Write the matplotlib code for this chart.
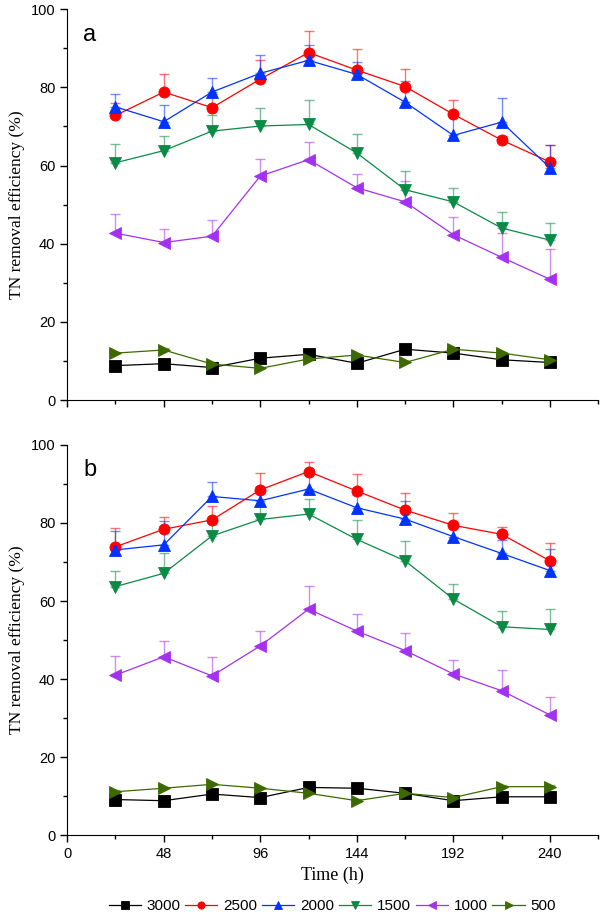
import matplotlib
matplotlib.use('Agg')
import numpy as np
import matplotlib.pyplot as plt
from matplotlib.ticker import MultipleLocator

# sampling times (h)
time_h = [24, 48, 72, 96, 120, 144, 168, 192, 216, 240]
labels = ['3000', '2500', '2000', '1500', '1000', '500']

# panel a: TN removal efficiency (%) and upper error
a_3000 = [8.8, 9.3, 8.3, 10.7, 11.7, 9.4, 13.0, 12.0, 10.3, 9.6]
a_2500 = [72.8, 78.8, 74.8, 82.1, 88.9, 84.4, 80.2, 73.1, 66.5, 60.9]
a_2000 = [75.0, 71.2, 78.8, 83.6, 86.9, 83.3, 76.2, 67.7, 71.1, 59.4]
a_1500 = [60.7, 63.8, 68.8, 70.1, 70.5, 63.2, 53.8, 50.7, 44.0, 40.9]
a_1000 = [42.7, 40.3, 41.9, 57.3, 61.5, 54.3, 50.7, 42.3, 36.5, 30.9]
a_500 = [12.0, 12.8, 9.2, 8.1, 10.5, 11.5, 9.6, 13.0, 12.0, 10.3]

a_err_3000 = [0.4, 0.4, 0.4, 0.4, 0.4, 0.4, 0.4, 0.4, 0.4, 0.4]
a_err_2500 = [3.3, 4.5, 3.6, 4.8, 5.4, 5.5, 4.6, 3.6, 1.0, 4.3]
a_err_2000 = [3.2, 4.2, 3.7, 4.7, 4.0, 3.3, 5.3, 5.0, 6.1, 5.8]
a_err_1500 = [4.9, 3.7, 4.1, 4.5, 6.2, 4.9, 4.7, 3.6, 4.0, 4.4]
a_err_1000 = [4.9, 3.5, 4.1, 4.4, 4.6, 3.6, 5.3, 4.5, 6.2, 7.7]
a_err_500 = [0.4, 0.4, 0.4, 0.4, 0.4, 0.4, 0.4, 0.4, 0.4, 0.4]

# panel b
b_3000 = [9.1, 8.8, 10.5, 9.6, 12.2, 12.0, 10.7, 8.8, 9.8, 9.8]
b_2500 = [73.9, 78.4, 80.8, 88.5, 93.2, 88.2, 83.3, 79.4, 77.1, 70.3]
b_2000 = [73.1, 74.4, 86.8, 85.7, 88.7, 83.9, 81.0, 76.5, 72.2, 67.8]
b_1500 = [63.7, 67.1, 76.7, 80.9, 82.3, 75.8, 70.3, 60.5, 53.4, 52.7]
b_1000 = [41.0, 45.7, 40.8, 48.5, 57.9, 52.3, 47.3, 41.3, 37.0, 30.8]
b_500 = [11.1, 12.0, 13.0, 12.0, 10.7, 8.8, 10.7, 9.6, 12.4, 12.4]

b_err_3000 = [0.4, 0.4, 0.4, 0.4, 0.4, 0.4, 0.4, 0.4, 0.4, 0.4]
b_err_2500 = [4.7, 3.1, 3.5, 4.2, 2.5, 4.3, 4.3, 3.1, 2.0, 4.6]
b_err_2000 = [4.8, 6.1, 3.8, 3.6, 3.8, 3.3, 4.7, 3.8, 3.4, 5.5]
b_err_1500 = [4.0, 5.1, 3.8, 3.7, 3.8, 5.0, 5.1, 3.8, 4.1, 5.2]
b_err_1000 = [5.0, 4.0, 4.9, 3.9, 6.0, 4.3, 4.4, 3.6, 5.3, 4.7]
b_err_500 = [0.4, 0.4, 0.4, 0.4, 0.4, 0.4, 0.4, 0.4, 0.4, 0.4]

colors = ['#000000', '#ff0000', '#0033ff', '#0b8a45', '#a431f0', '#3c6a00']
markers = ['s', 'o', '^', 'v', '<', '>']

panel_a = [a_3000, a_2500, a_2000, a_1500, a_1000, a_500]
panel_a_err = [a_err_3000, a_err_2500, a_err_2000, a_err_1500, a_err_1000, a_err_500]
panel_b = [b_3000, b_2500, b_2000, b_1500, b_1000, b_500]
panel_b_err = [b_err_3000, b_err_2500, b_err_2000, b_err_1500, b_err_1000, b_err_500]

fig = plt.figure(figsize=(6, 9.16), dpi=100)
ax_a = fig.add_axes([0.112, 0.5633, 0.885, 0.4267])
ax_b = fig.add_axes([0.112, 0.0884, 0.885, 0.4258])

serif = ['Liberation Serif', 'DejaVu Serif']
sans = ['Liberation Sans', 'DejaVu Sans']


def draw_panel(ax, series, errs, letter, show_xlabels):
    handles = []
    for vals, err, c, m, lab in zip(series, errs, colors, markers, labels):
        ax.errorbar(time_h, vals, yerr=[np.zeros(len(err)), err], fmt='none',
                    ecolor=c, elinewidth=1.0, capsize=3.5, capthick=1.0,
                    alpha=0.55, zorder=2)
        h, = ax.plot(time_h, vals, color=c, lw=0.9, marker=m, ms=8,
                     markeredgewidth=0.6, markeredgecolor=c, label=lab, zorder=3)
        handles.append(h)
    ax.set_xlim(0, 264)
    ax.set_ylim(0, 100)
    ax.spines['top'].set_visible(False)
    ax.spines['right'].set_visible(False)
    ax.xaxis.set_major_locator(MultipleLocator(48))
    ax.xaxis.set_minor_locator(MultipleLocator(24))
    ax.yaxis.set_major_locator(MultipleLocator(20))
    ax.yaxis.set_minor_locator(MultipleLocator(10))
    ax.tick_params(which='major', direction='out', length=5, width=1, labelsize=10.5)
    ax.tick_params(which='minor', direction='out', length=3, width=1)
    for lbl in ax.get_xticklabels() + ax.get_yticklabels():
        lbl.set_family(sans)
    if not show_xlabels:
        ax.tick_params(axis='x', labelbottom=False)
    ax.set_ylabel('TN removal efficiency (%)', family=serif, fontsize=12.5, labelpad=4)
    ax.text(8, 93.5, letter, family=sans, fontsize=17, va='center', ha='left')
    return handles


draw_panel(ax_a, panel_a, panel_a_err, 'a', False)
handles = draw_panel(ax_b, panel_b, panel_b_err, 'b', True)
ax_b.set_xlabel('Time (h)', family=serif, fontsize=13, labelpad=4)

fig.legend(handles, labels, loc='center', bbox_to_anchor=(0.554, 0.011), ncol=6,
           frameon=False, handlelength=2.1, handletextpad=0.4, columnspacing=0.3,
           prop={'family': sans, 'size': 11}, markerscale=0.65)

fig.savefig('out.png', dpi=100)
